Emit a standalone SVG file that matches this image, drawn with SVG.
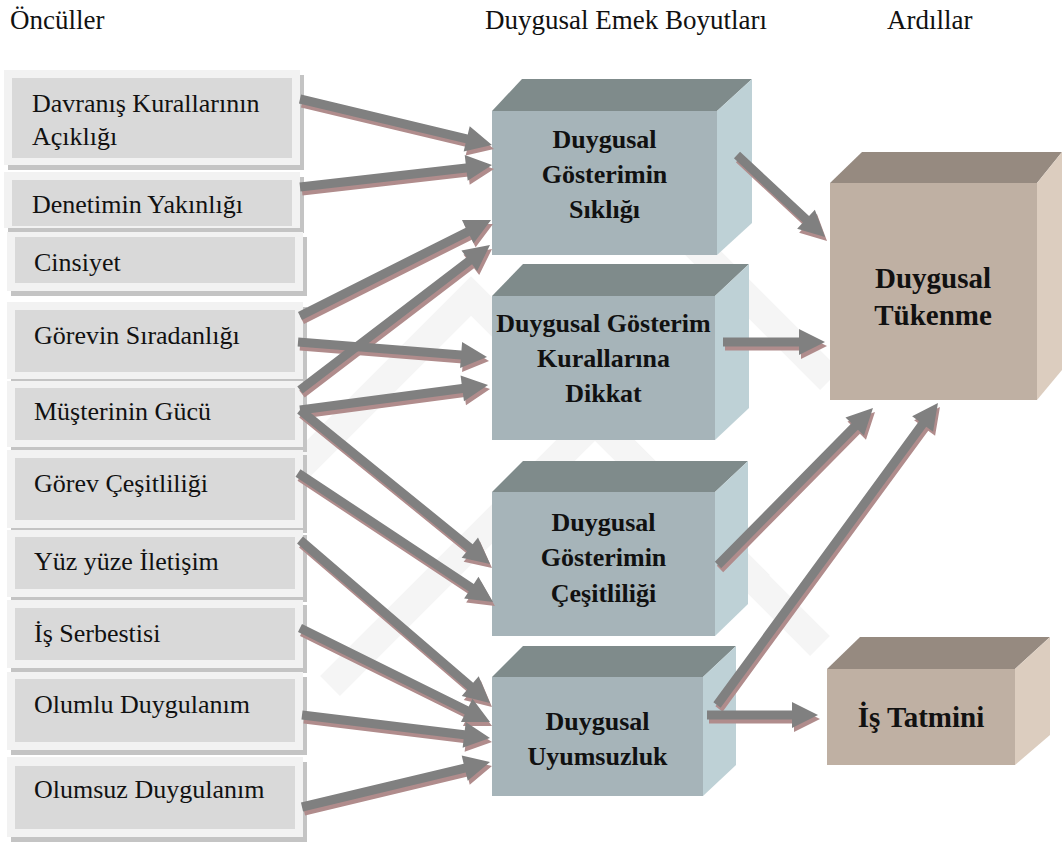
<svg xmlns="http://www.w3.org/2000/svg" xmlns:xlink="http://www.w3.org/1999/xlink" width="1062" height="843" viewBox="0 0 1062 843">
  <style>
    .hdr { font-family: "Liberation Serif", "DejaVu Serif", serif; font-size: 27px; fill: #111; }
    .lbl { font-family: "Liberation Serif", "DejaVu Serif", serif; font-size: 26px; fill: #111; }
    .blbl { font-family: "Liberation Serif", "DejaVu Serif", serif; font-size: 26px; font-weight: bold; fill: #111; text-anchor: middle; }
    .rlbl { font-family: "Liberation Serif", "DejaVu Serif", serif; font-size: 29px; font-weight: bold; fill: #111; text-anchor: middle; }
    .frame { fill: #f2f2f2; }
    .fshadow { fill: #c4c4c4; }
    .inner { fill: #d9d9d9; }
    .ctop { fill: #7f8b8b; }
    .cfront { fill: #a6b4b9; }
    .cside { fill: #bed1d6; }
    .btop { fill: #968a80; }
    .bfront { fill: #bfb0a3; }
    .bside { fill: #dccdbf; }
    .wm { fill: none; stroke: #f5f5f5; stroke-width: 28; stroke-linejoin: miter; }
  </style>

  <rect width="1062" height="843" fill="#ffffff"/>

  <!-- faint background emblem -->
  <g id="emblem">
    <polyline class="wm" points="230,537 471,296 760,585"/>
    <polyline class="wm" points="330,686 595,421 820,646"/>
    <line class="wm" x1="620" y1="170" x2="830" y2="380"/>
  </g>

  <!-- column headings -->
  <g id="headings">
    <text class="hdr" x="10" y="29">Öncüller</text>
    <text class="hdr" x="485" y="29">Duygusal Emek Boyutları</text>
    <text class="hdr" x="887" y="29">Ardıllar</text>
  </g>

  <!-- antecedents -->
  <g id="n-davranis">
    <rect class="fshadow" x="8" y="75" width="296" height="95"/>
    <rect class="frame" x="4" y="70" width="296" height="95"/>
    <rect class="inner" x="12" y="78" width="280" height="80"/>
    <text class="lbl" x="32" y="112">Davranış Kurallarının</text>
    <text class="lbl" x="32" y="145">Açıklığı</text>
  </g>
  <g id="n-denetim">
    <rect class="fshadow" x="8" y="177" width="296" height="56"/>
    <rect class="frame" x="4" y="172" width="296" height="56"/>
    <rect class="inner" x="12" y="180" width="280" height="46"/>
    <text class="lbl" x="32" y="213">Denetimin Yakınlığı</text>
  </g>
  <g id="n-cinsiyet">
    <rect class="fshadow" x="11" y="237" width="296" height="59"/>
    <rect class="frame" x="7" y="232" width="296" height="59"/>
    <rect class="inner" x="15" y="237" width="280" height="46"/>
    <text class="lbl" x="34" y="271">Cinsiyet</text>
  </g>
  <g id="n-siradanlik">
    <rect class="fshadow" x="11" y="307" width="296" height="77"/>
    <rect class="frame" x="7" y="302" width="296" height="77"/>
    <rect class="inner" x="15" y="310" width="280" height="62"/>
    <text class="lbl" x="34" y="344">Görevin Sıradanlığı</text>
  </g>
  <g id="n-musteri">
    <rect class="fshadow" x="11" y="386" width="296" height="66"/>
    <rect class="frame" x="7" y="381" width="296" height="66"/>
    <rect class="inner" x="15" y="388" width="280" height="52"/>
    <text class="lbl" x="34" y="420">Müşterinin Gücü</text>
  </g>
  <g id="n-cesitlilik">
    <rect class="fshadow" x="11" y="455" width="296" height="78"/>
    <rect class="frame" x="7" y="450" width="296" height="78"/>
    <rect class="inner" x="15" y="458" width="280" height="62"/>
    <text class="lbl" x="34" y="492">Görev Çeşitliliği</text>
  </g>
  <g id="n-yuzyuze">
    <rect class="fshadow" x="11" y="535" width="296" height="67"/>
    <rect class="frame" x="7" y="530" width="296" height="67"/>
    <rect class="inner" x="15" y="537" width="280" height="52"/>
    <text class="lbl" x="34" y="570">Yüz yüze İletişim</text>
  </g>
  <g id="n-serbesti">
    <rect class="fshadow" x="11" y="605" width="296" height="68"/>
    <rect class="frame" x="7" y="600" width="296" height="68"/>
    <rect class="inner" x="15" y="608" width="280" height="52"/>
    <text class="lbl" x="34" y="642">İş Serbestisi</text>
  </g>
  <g id="n-olumlu">
    <rect class="fshadow" x="11" y="677" width="296" height="78"/>
    <rect class="frame" x="7" y="672" width="296" height="78"/>
    <rect class="inner" x="15" y="679" width="280" height="63"/>
    <text class="lbl" x="34" y="713">Olumlu Duygulanım</text>
  </g>
  <g id="n-olumsuz">
    <rect class="fshadow" x="11" y="762" width="296" height="80"/>
    <rect class="frame" x="7" y="757" width="296" height="80"/>
    <rect class="inner" x="15" y="766" width="280" height="63"/>
    <text class="lbl" x="34" y="798">Olumsuz Duygulanım</text>
  </g>

  <!-- emotional labour dimensions -->
  <g id="n-siklik">
    <polygon class="ctop" points="492,111 522,79 752,79 717,111"/>
    <polygon class="cside" points="717,111 752,79 752,223 717,255"/>
    <rect class="cfront" x="492" y="111" width="225" height="144"/>
    <text class="blbl" x="604.5" y="148">Duygusal</text>
    <text class="blbl" x="604.5" y="183">Gösterimin</text>
    <text class="blbl" x="604.5" y="218">Sıklığı</text>
  </g>
  <g id="n-dikkat">
    <polygon class="ctop" points="492,296 523,264 749,264 715,296"/>
    <polygon class="cside" points="715,296 749,264 749,408 715,440"/>
    <rect class="cfront" x="492" y="296" width="223" height="144"/>
    <text class="blbl" x="603.5" y="332">Duygusal Gösterim</text>
    <text class="blbl" x="603.5" y="367">Kurallarına</text>
    <text class="blbl" x="603.5" y="402">Dikkat</text>
  </g>
  <g id="n-gcesitlilik">
    <polygon class="ctop" points="492,492 523,461 748,461 715,492"/>
    <polygon class="cside" points="715,492 748,461 748,604 715,636"/>
    <rect class="cfront" x="492" y="492" width="223" height="144"/>
    <text class="blbl" x="603.5" y="531">Duygusal</text>
    <text class="blbl" x="603.5" y="566">Gösterimin</text>
    <text class="blbl" x="603.5" y="602">Çeşitliliği</text>
  </g>
  <g id="n-uyumsuzluk">
    <polygon class="ctop" points="492,677 523,646 736,646 703,677"/>
    <polygon class="cside" points="703,677 736,646 736,765 703,796"/>
    <rect class="cfront" x="492" y="677" width="211" height="119"/>
    <text class="blbl" x="597.5" y="730">Duygusal</text>
    <text class="blbl" x="597.5" y="765">Uyumsuzluk</text>
  </g>

  <!-- consequences -->
  <g id="n-tukenme">
    <polygon class="btop" points="830,183 862,152 1062,152 1037,183"/>
    <polygon class="bside" points="1037,183 1062,152 1062,370 1037,400"/>
    <rect class="bfront" x="830" y="183" width="207" height="217"/>
    <text class="rlbl" x="933" y="288">Duygusal</text>
    <text class="rlbl" x="933" y="325">Tükenme</text>
  </g>
  <g id="n-tatmin">
    <polygon class="btop" points="827,669 860,637 1050,637 1015,669"/>
    <polygon class="bside" points="1015,669 1050,637 1050,735 1015,765"/>
    <rect class="bfront" x="827" y="669" width="188" height="96"/>
    <text class="rlbl" x="921" y="727">İş Tatmini</text>
  </g>

  <!-- connectors: block arrows, each drawn along +x then rotated into place -->
  <g id="connectors">
    <g fill="#b08c8c">
      <use xlink:href="#c1" href="#c1" transform="translate(2,4)"/>
      <use xlink:href="#c2" href="#c2" transform="translate(2,4)"/>
      <use xlink:href="#c3" href="#c3" transform="translate(2,4)"/>
      <use xlink:href="#c4" href="#c4" transform="translate(2,4)"/>
      <use xlink:href="#c5" href="#c5" transform="translate(2,4)"/>
      <use xlink:href="#c6" href="#c6" transform="translate(2,4)"/>
      <use xlink:href="#c7" href="#c7" transform="translate(2,4)"/>
      <use xlink:href="#c8" href="#c8" transform="translate(2,4)"/>
      <use xlink:href="#c9" href="#c9" transform="translate(2,4)"/>
      <use xlink:href="#c10" href="#c10" transform="translate(2,4)"/>
      <use xlink:href="#c11" href="#c11" transform="translate(2,4)"/>
      <use xlink:href="#c12" href="#c12" transform="translate(2,4)"/>
      <use xlink:href="#d1" href="#d1" transform="translate(2,4)"/>
      <use xlink:href="#d2" href="#d2" transform="translate(2,4)"/>
      <use xlink:href="#d3" href="#d3" transform="translate(2,4)"/>
      <use xlink:href="#d4" href="#d4" transform="translate(2,4)"/>
      <use xlink:href="#d5" href="#d5" transform="translate(2,4)"/>
    </g>
    <g fill="#808080">
      <path id="c1" transform="translate(300,99) rotate(13.47)" d="M0,-4.5 H171.4 V-13 L197.4,0 L171.4,13 V4.5 H0 Z"/>
      <path id="c2" transform="translate(300,187) rotate(-6.54)" d="M0,-4.5 H167.3 V-13 L193.3,0 L167.3,13 V4.5 H0 Z"/>
      <path id="c3" transform="translate(300,316) rotate(-26.69)" d="M0,-4.5 H187.8 V-13 L213.8,0 L187.8,13 V4.5 H0 Z"/>
      <path id="c4" transform="translate(300,390) rotate(-37.35)" d="M0,-4.5 H213 V-13 L239,0 L213,13 V4.5 H0 Z"/>
      <path id="c5" transform="translate(298,342) rotate(4.54)" d="M0,-4.5 H163.6 V-13 L189.6,0 L163.6,13 V4.5 H0 Z"/>
      <path id="c6" transform="translate(300,410) rotate(-7.57)" d="M0,-4.5 H163.7 V-13 L189.7,0 L163.7,13 V4.5 H0 Z"/>
      <path id="c7" transform="translate(300,410) rotate(39.03)" d="M0,-4.5 H218.6 V-13 L244.6,0 L218.6,13 V4.5 H0 Z"/>
      <path id="c8" transform="translate(298,473) rotate(33.49)" d="M0,-4.5 H207.8 V-13 L233.8,0 L207.8,13 V4.5 H0 Z"/>
      <path id="c9" transform="translate(300,540) rotate(40.63)" d="M0,-4.5 H224.3 V-13 L250.3,0 L224.3,13 V4.5 H0 Z"/>
      <path id="c10" transform="translate(300,628) rotate(26.32)" d="M0,-4.5 H186 V-13 L212,0 L186,13 V4.5 H0 Z"/>
      <path id="c11" transform="translate(302,715) rotate(6.97)" d="M0,-4.5 H163.4 V-13 L189.4,0 L163.4,13 V4.5 H0 Z"/>
      <path id="c12" transform="translate(302,807) rotate(-13.46)" d="M0,-4.5 H167.3 V-13 L193.3,0 L167.3,13 V4.5 H0 Z"/>
      <path id="d1" transform="translate(737,155) rotate(42.98)" d="M0,-4.5 H94.3 V-13 L120.3,0 L94.3,13 V4.5 H0 Z"/>
      <path id="d2" transform="translate(723,342)" d="M0,-4.5 H76 V-13 L102,0 L76,13 V4.5 H0 Z"/>
      <path id="d3" transform="translate(718,565) rotate(-45.37)" d="M0,-4.5 H194.6 V-13 L220.6,0 L194.6,13 V4.5 H0 Z"/>
      <path id="d4" transform="translate(717,705) rotate(-53.81)" d="M0,-4.5 H348.2 V-13 L374.2,0 L348.2,13 V4.5 H0 Z"/>
      <path id="d5" transform="translate(707,715)" d="M0,-4.5 H85 V-13 L111,0 L85,13 V4.5 H0 Z"/>
    </g>
  </g>
</svg>
